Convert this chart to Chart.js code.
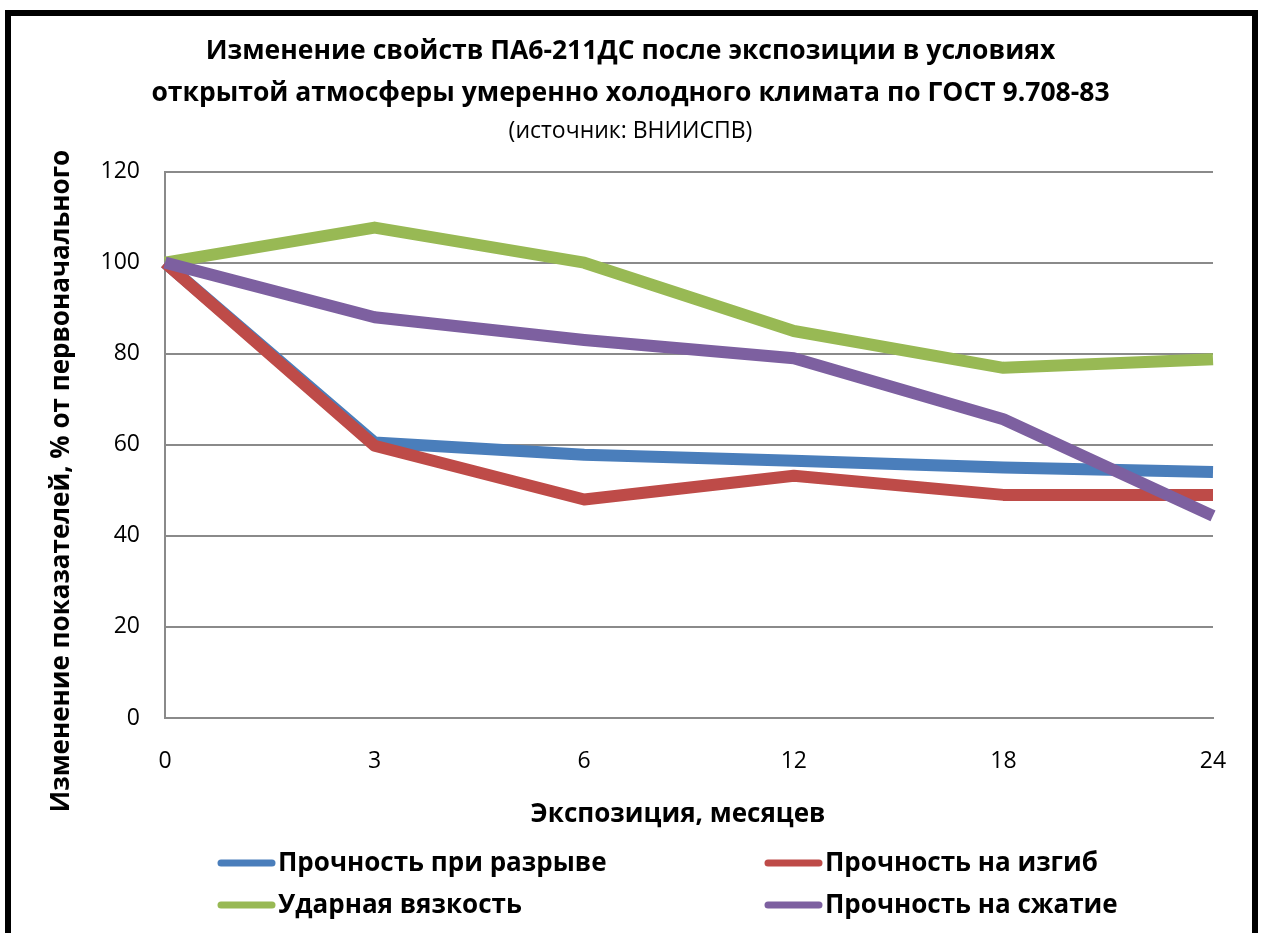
<!DOCTYPE html>
<html>
<head>
<meta charset="utf-8">
<script src="https://cdn.jsdelivr.net/npm/chart.js@4"></script>
<style>
  html, body { margin: 0; padding: 0; background: #fff; }
  #wrap { position: relative; width: 1261px; height: 933px; }
</style>
</head>
<body>
<div id="wrap"><canvas id="agingChart" width="1261" height="933"></canvas></div>
<script>
const months = ['0', '3', '6', '12', '18', '24'];
const tensile = [100, 60.5, 57.8, 56.5, 55, 54];
const bending = [100, 59.8, 48, 53.2, 49, 49];
const impact = [100, 107.7, 100, 85, 76.9, 78.8];
const compression = [100, 88, 83, 79, 65.6, 44.4];
const seriesNames = ['Прочность при разрыве', 'Прочность на изгиб', 'Ударная вязкость', 'Прочность на сжатие'];
const seriesColors = ['#4a7ebb', '#be4b48', '#98b954', '#7d60a0'];
const yTicks = [0, 20, 40, 60, 80, 100, 120];
const xTitle = 'Экспозиция, месяцев';
const yTitle = 'Изменение показателей, % от первоначального';

const FONT = "'Open Sans', sans-serif";

// outer black frame
const framePlugin = {
    id: 'frame',
    beforeDraw(chart) {
        const c = chart.ctx;
        c.save();
        c.strokeStyle = '#000';
        c.lineWidth = 6;
        c.strokeRect(8, 13, 1247, 1000);
        c.restore();
    }
};

// axis titles sit off-centre in the original, so they are placed by hand
const axisTitles = {
    id: 'axisTitles',
    afterDraw(chart) {
        const c = chart.ctx;
        c.save();
        c.fillStyle = '#000';
        c.font = "bold 26px " + FONT;
        c.textAlign = 'center';
        c.textBaseline = 'middle';
        c.fillText(xTitle, 678, 815);
        c.translate(62, 481);
        c.rotate(-Math.PI / 2);
        c.fillText(yTitle, 0, 0);
        c.restore();
    }
};

// legend in a 2x2 grid, like the original
const gridLegend = {
    id: 'gridLegend',
    afterDraw(chart) {
        const c = chart.ctx;
        const cols = [218, 765];
        const rows = [863, 905];
        c.save();
        c.font = "bold 26px " + FONT;
        c.textBaseline = 'middle';
        c.textAlign = 'left';
        chart.data.datasets.forEach((ds, i) => {
            const x = cols[i % 2];
            const y = rows[Math.floor(i / 2)];
            c.strokeStyle = ds.borderColor;
            c.lineWidth = 7;
            c.lineCap = 'round';
            c.beginPath();
            c.moveTo(x + 3, y);
            c.lineTo(x + 54, y);
            c.stroke();
            c.fillStyle = '#000';
            c.fillText(ds.label, x + 60, y + 1);
        });
        c.restore();
    }
};

const seriesData = [tensile, bending, impact, compression];
const drawOrder = [3, 2, 1, 0];

const datasets = seriesData.map((vals, i) => ({
    label: seriesNames[i],
    data: vals,
    borderColor: seriesColors[i],
    backgroundColor: seriesColors[i],
    borderWidth: 12,
    borderJoinStyle: 'round',
    pointRadius: 0,
    tension: 0,
    order: drawOrder[i]
}));

new Chart(document.getElementById('agingChart'), {
    type: 'line',
    data: { labels: months, datasets: datasets },
    options: {
        responsive: false,
        animation: false,
        // symmetric padding keeps the title centred on the whole canvas
        layout: { padding: { left: 34, right: 34, top: 0, bottom: 93 } },
        plugins: {
            legend: { display: false },
            tooltip: { enabled: false },
            title: {
                display: true,
                text: ['Изменение свойств ПА6-211ДС после экспозиции в условиях',
                       'открытой атмосферы умеренно холодного климата по ГОСТ 9.708-83'],
                color: '#000',
                font: { family: FONT, size: 26.5, weight: 'bold', lineHeight: 1.585 },
                padding: { top: 30, bottom: 0 }
            },
            subtitle: {
                display: true,
                text: '(источник: ВНИИСПВ)',
                color: '#000',
                font: { family: FONT, size: 23, weight: 'normal', lineHeight: 1.2 },
                padding: { top: 4, bottom: 26 }
            }
        },
        scales: {
            x: {
                offset: false,
                grid: { display: false, drawTicks: false },
                border: { display: true, color: '#8a8a8a', width: 2 },
                ticks: { color: '#000', padding: 30, font: { family: FONT, size: 23 }, maxRotation: 0 },
                afterFit(scale) { scale.height = 122; }
            },
            y: {
                min: 0,
                max: 120,
                afterBuildTicks(scale) { scale.ticks = yTicks.map(v => ({ value: v })); },
                grid: { color: '#8a8a8a', lineWidth: 2, drawTicks: false },
                border: { display: true, color: '#8a8a8a', width: 2 },
                ticks: { color: '#000', padding: 25, font: { family: FONT, size: 23 } },
                afterFit(scale) { scale.width = 131; }
            },
            // empty right-hand spacer so the plot ends at the same place as the original
            ySpace: {
                position: 'right',
                min: 0,
                max: 120,
                grid: { display: false, drawTicks: false },
                border: { display: false },
                ticks: { display: false },
                afterFit(scale) { scale.width = 14; }
            }
        }
    },
    plugins: [framePlugin, axisTitles, gridLegend]
});
</script>
</body>
</html>
